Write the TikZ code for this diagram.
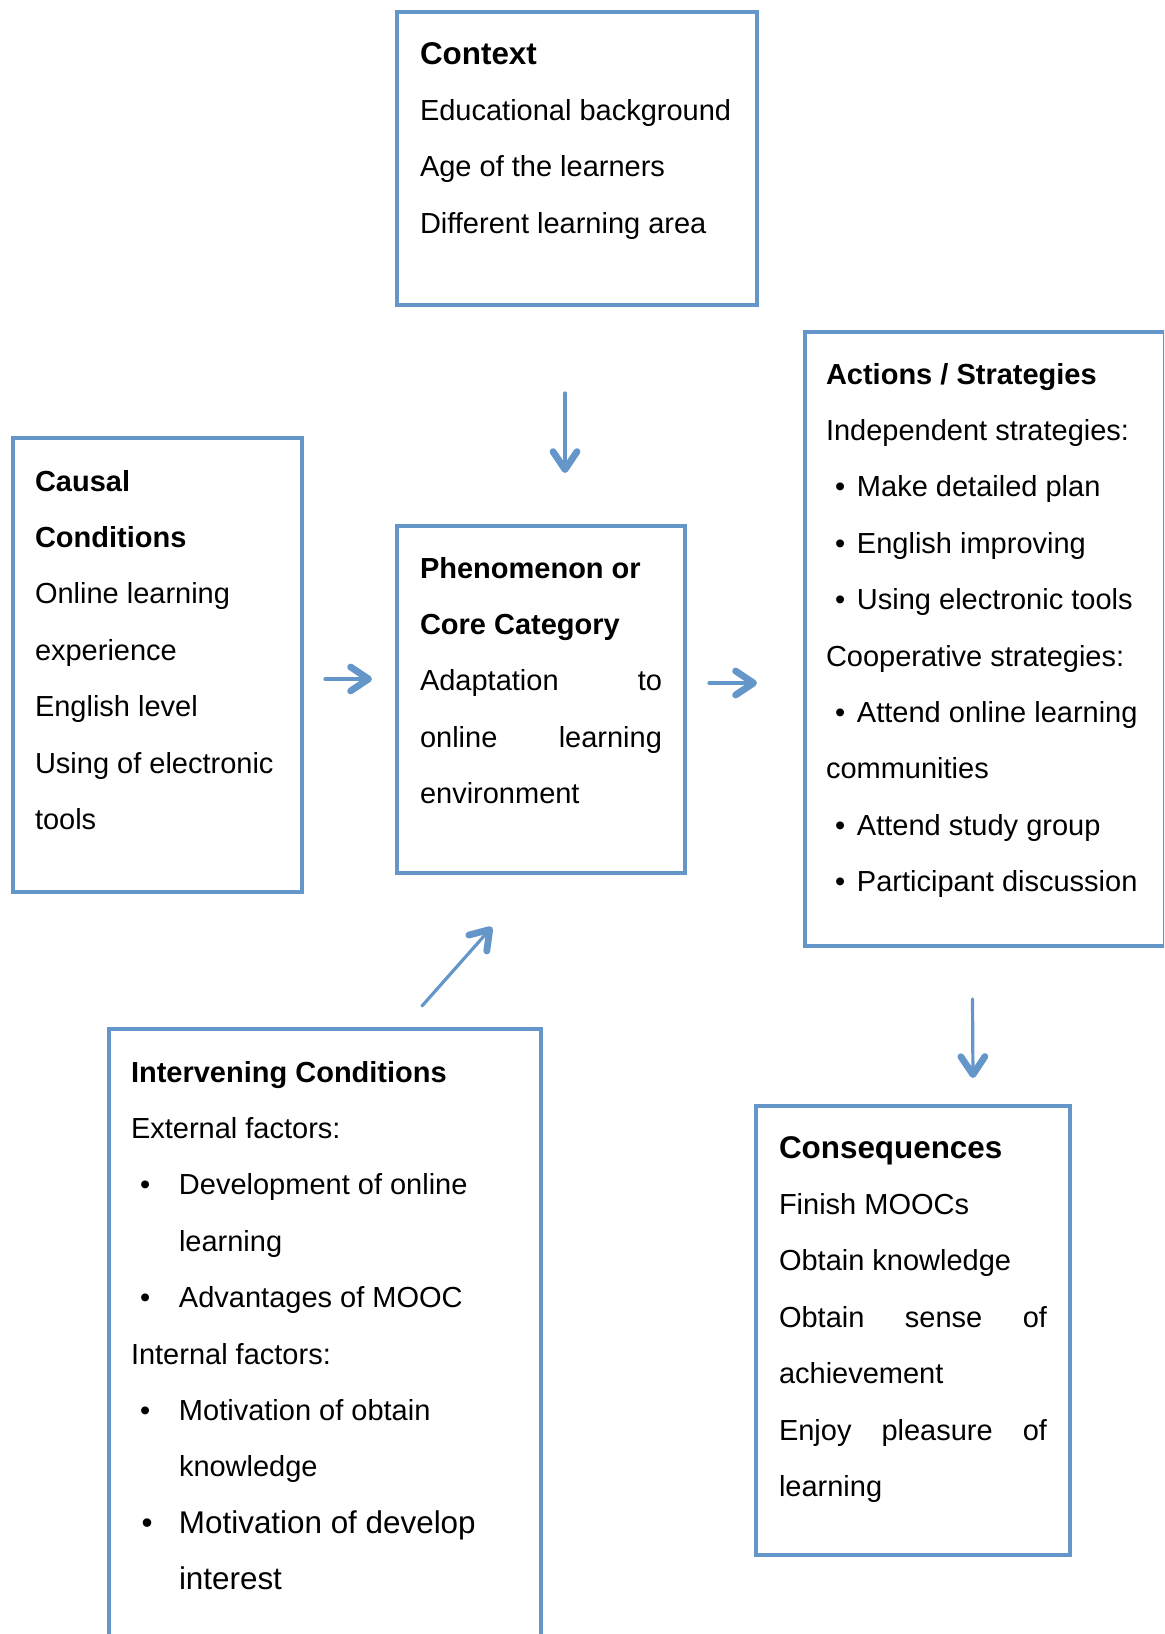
\documentclass[tikz,border=0pt]{standalone}
\usepackage{fontspec}
\setmainfont{Liberation Sans}
\usetikzlibrary{arrows.meta,calc}
\definecolor{frameblue}{RGB}{100,150,202}

% one text row, a bold heading row, a larger bold heading row
\newcommand\rowtxt[1]{\hbox{#1}}
\newcommand\headrow[1]{\hbox{\bfseries #1}}
\newcommand\bigheadrow[1]{\hbox{\fontsize{15.7}{28.2}\selectfont\bfseries #1}}
% bullet row: bullet offset, gap from bullet to text, text
\newcommand\bulrow[3]{\hbox{\hskip#1\rlap{\textbullet}\hskip#2 #3}}

\tikzset{
  box/.style={draw=frameblue, line width=2pt, inner sep=0pt, outer sep=0pt,
              rectangle, anchor=north west},
  body/.style={anchor=base west, inner sep=0pt, outer sep=0pt,
               font=\fontsize{14.5}{28.2}\selectfont},
  link/.style={draw=frameblue, line width=1.6pt, line cap=round,
               -{Straight Barb[length=9pt, width=12pt, line width=3.4pt, round]}}
}

\begin{document}
\begin{tikzpicture}[x=0.5pt, y=-0.5pt]
\useasboundingbox (0,0) rectangle (1164,1634);
\clip (0,0) rectangle (1164,1634);

% frames
\node[box, minimum width=180pt,   minimum height=146.5pt] (ctx)  at (397,12)   {};
\node[box, minimum width=144.5pt, minimum height=227pt]   (caus) at (13,438)   {};
\node[box, minimum width=144pt,   minimum height=173.5pt] (phen) at (397,526)  {};
\node[box, minimum width=180pt,   minimum height=307pt]   (act)  at (805,332)  {};
\node[box, minimum width=216pt,   minimum height=340pt]   (intv) at (109,1029) {};
\node[box, minimum width=157pt,   minimum height=224.5pt] (cons) at (756,1106) {};

% texts
\node[body] (ctxT) at ($(ctx.north west)+(23,52)$) {\vtop{%
  \bigheadrow{Context}
  \rowtxt{Educational background}
  \rowtxt{Age of the learners}
  \rowtxt{Different learning area}}};

\node[body] (causT) at ($(caus.north west)+(22,53)$) {\vtop{%
  \headrow{Causal}
  \headrow{Conditions}
  \rowtxt{Online learning}
  \rowtxt{experience}
  \rowtxt{English level}
  \rowtxt{Using of electronic}
  \rowtxt{tools}}};

\node[body] (phenT) at ($(phen.north west)+(23,52)$) {\vtop{%
  \headrow{Phenomenon or}
  \headrow{Core Category}
  \hbox to 121pt{Adaptation\hfill to}
  \hbox to 121pt{online\hfill learning}
  \rowtxt{environment}}};

\node[body] (actT) at ($(act.north west)+(21,52)$) {\vtop{%
  \headrow{Actions / Strategies}
  \rowtxt{Independent strategies:}
  \bulrow{4.5pt}{11pt}{Make detailed plan}
  \bulrow{4.5pt}{11pt}{English improving}
  \bulrow{4.5pt}{11pt}{Using electronic tools}
  \rowtxt{Cooperative strategies:}
  \bulrow{4.5pt}{11pt}{Attend online learning}
  \rowtxt{communities}
  \bulrow{4.5pt}{11pt}{Attend study group}
  \bulrow{4.5pt}{11pt}{Participant discussion}}};

\node[body] (intvT) at ($(intv.north west)+(22,53)$) {\vtop{%
  \headrow{Intervening Conditions}
  \rowtxt{External factors:}
  \bulrow{4.5pt}{19.5pt}{Development of online}
  \rowtxt{\hskip24pt learning}
  \bulrow{4.5pt}{19.5pt}{Advantages of MOOC}
  \rowtxt{Internal factors:}
  \bulrow{4.5pt}{19.5pt}{Motivation of obtain}
  \rowtxt{\hskip24pt knowledge}
  \hbox{\fontsize{15.7}{28.2}\selectfont\hskip5.3pt\rlap{\textbullet}\hskip18.7pt Motivation of develop}
  \hbox{\fontsize{15.7}{28.2}\selectfont\hskip24pt interest}}};

\node[body] (consT) at ($(cons.north west)+(23,52)$) {\vtop{%
  \bigheadrow{Consequences}
  \rowtxt{Finish MOOCs}
  \rowtxt{Obtain knowledge}
  \hbox to 134pt{Obtain\hfill sense\hfill of}
  \rowtxt{achievement}
  \hbox to 134pt{Enjoy\hfill pleasure\hfill of}
  \rowtxt{learning}}};

% connectors
\draw[link] ($(ctx.south)+(-12,88)$)   -- ($(phen.north)+(24,-53)$);
\draw[link] ($(caus.east)+(23,14)$)    -- ($(phen.west)+(-25,-20.5)$);
\draw[link] ($(phen.east)+(24,-16.5)$) -- ($(act.west)+(-48,44)$);
\draw[link] ($(intv.north)+(97,-23)$)  -- ($(phen.south)+(-49,54)$);
\draw[link] ($(act.south)+(-12.5,53)$) -- ($(cons.north)+(60,-28)$);
\end{tikzpicture}
\end{document}
